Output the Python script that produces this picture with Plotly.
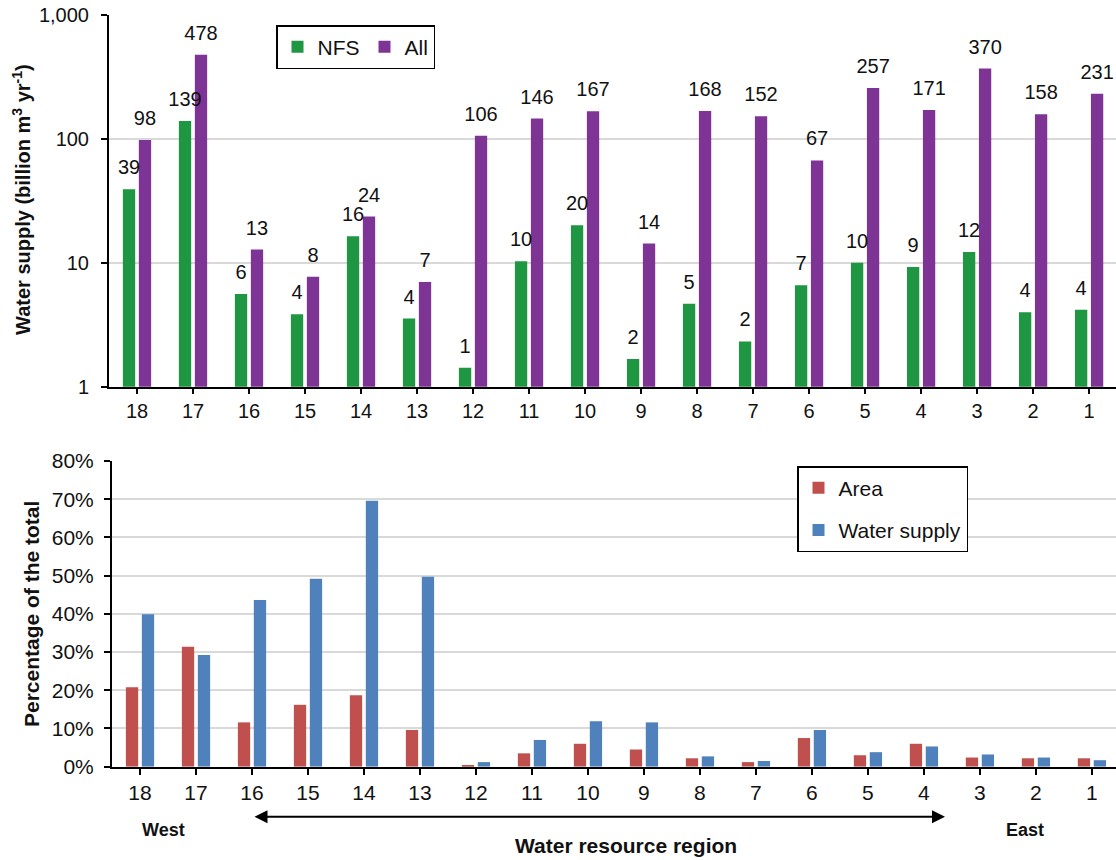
import plotly.graph_objects as go

# ---------------- data ----------------
regions = ["18", "17", "16", "15", "14", "13", "12", "11", "10",
           "9", "8", "7", "6", "5", "4", "3", "2", "1"]

# top panel: water supply (billion m3 / yr), log scale
nfs_supply = [39.2, 139.4, 5.6, 3.84, 16.4, 3.55, 1.42, 10.3, 20.1,
              1.67, 4.68, 2.32, 6.58, 10.0, 9.25, 12.2, 3.98, 4.18]
all_supply = [98, 478, 12.8, 7.7, 23.6, 7.0, 106, 146, 167,
              14.3, 168, 152, 67, 257, 171, 370, 158, 231]
top_ticks = [1, 10, 100, 1000]

# bottom panel: percentage of the total
area_pct = [20.8, 31.4, 11.6, 16.2, 18.7, 9.6, 0.4, 3.5, 6.0,
            4.5, 2.2, 1.2, 7.5, 3.0, 6.0, 2.4, 2.2, 2.2]
ws_pct = [39.9, 29.2, 43.6, 49.2, 69.6, 49.7, 1.2, 7.0, 11.9,
          11.6, 2.7, 1.5, 9.6, 3.8, 5.3, 3.2, 2.4, 1.7]

# ---------------- style ----------------
FONT = "Liberation Sans, Arial, sans-serif"
GREEN = "#1E9642"
PURPLE = "#7E3494"
RED = "#C0504D"
BLUE = "#4F81BD"
GRID = "#D9D9D9"
W, H = 1116, 860
LABEL_LIFT = 1.16   # extra gap between bar top and its value label (log axis)

fig = go.Figure()

# visible bars, top panel
for vals, name, color, grp in [(nfs_supply, "NFS", GREEN, "nfs"),
                               (all_supply, "All", PURPLE, "all")]:
    fig.add_trace(go.Bar(
        x=regions, y=vals, name=name, offsetgroup=grp,
        marker=dict(color=color, line=dict(width=0)),
        xaxis="x", yaxis="y", legend="legend", hoverinfo="x+y"))

# value labels, placed a little above each bar (transparent carrier bars)
for vals, grp in [(nfs_supply, "nfs"), (all_supply, "all")]:
    fig.add_trace(go.Bar(
        x=regions, y=[v * LABEL_LIFT for v in vals], customdata=vals,
        offsetgroup=grp, texttemplate="%{customdata:.0f}",
        textposition="outside", cliponaxis=False, constraintext="none",
        textfont=dict(size=20, color="#111"),
        marker=dict(color="rgba(0,0,0,0)", line=dict(width=0)),
        xaxis="x", yaxis="y", showlegend=False, hoverinfo="skip"))

fig.add_trace(go.Bar(
    x=regions, y=area_pct, name="Area", marker=dict(color=RED, line=dict(width=0)),
    xaxis="x2", yaxis="y2", legend="legend2", legendgroup="a"))
fig.add_trace(go.Bar(
    x=regions, y=ws_pct, name="Water supply", marker=dict(color=BLUE, line=dict(width=0)),
    xaxis="x2", yaxis="y2", legend="legend2", legendgroup="b"))

axis_common = dict(showline=True, linecolor="black", linewidth=2,
                   ticks="outside", tickcolor="black", tickwidth=2,
                   zeroline=False, automargin=False)

fig.update_layout(
    width=W, height=H,
    margin=dict(l=0, r=0, t=0, b=0, autoexpand=False),
    paper_bgcolor="white", plot_bgcolor="white",
    font=dict(family=FONT, size=20, color="#111"),
    barmode="group", bargap=0.43, bargroupgap=0.23,
    xaxis=dict(domain=[109 / W, 1], range=[-0.5, 17.48], type="category",
               anchor="y", showgrid=False, ticklen=5,
               tickfont=dict(size=20), **axis_common),
    yaxis=dict(domain=[1 - 386.7 / H, 1 - 15 / H], type="log", range=[0, 3],
               anchor="x", tickvals=top_ticks, tickformat=",",
               showgrid=True, gridcolor=GRID, gridwidth=1.5, ticklen=6,
               ticklabelstandoff=8, tickfont=dict(size=20), **axis_common),
    xaxis2=dict(domain=[112 / W, 1], range=[-0.5, 17.43], type="category",
                anchor="y2", showgrid=False, ticklen=6,
                tickfont=dict(size=21), **axis_common),
    yaxis2=dict(domain=[1 - 766.7 / H, 1 - 461 / H], range=[0, 80], dtick=10,
                ticksuffix="%", anchor="x2", showgrid=True, gridcolor=GRID,
                gridwidth=1.5, ticklen=6, ticklabelstandoff=6,
                tickfont=dict(size=21), **axis_common),
    legend=dict(orientation="h", x=276 / W, y=1 - 25 / H, xanchor="left",
                yanchor="top", bordercolor="black", borderwidth=1.5,
                bgcolor="white", font=dict(size=21)),
    legend2=dict(orientation="v", x=797 / W, y=1 - 466 / H, xanchor="left",
                 yanchor="top", bordercolor="black", borderwidth=1.5,
                 bgcolor="white", font=dict(size=21), tracegroupgap=12,
                 traceorder="grouped"),
    showlegend=True,
)

annotations = [
    dict(text="<b>Water supply (billion m<sup>3</sup> yr<sup>-1</sup>)</b>",
         x=22 / W, y=1 - 200 / H, textangle=-90, font=dict(size=20)),
    dict(text="<b>Percentage of the total</b>",
         x=31 / W, y=1 - 614 / H, textangle=-90, font=dict(size=21)),
    dict(text="<b>West</b>", x=163 / W, y=1 - 830 / H, font=dict(size=18)),
    dict(text="<b>East</b>", x=1025 / W, y=1 - 830 / H, font=dict(size=18)),
    dict(text="<b>Water resource region</b>", x=626 / W, y=1 - 845 / H,
         font=dict(size=21)),
]
for a in annotations:
    a.update(xref="paper", yref="paper", showarrow=False,
             xanchor="center", yanchor="middle")
fig.update_layout(annotations=annotations)

# double-headed arrow West <-> East
fig.add_annotation(text="", xref="paper", yref="paper",
                   x=945 / W, y=1 - 816.7 / H, ax=-(945 - 253), ay=0,
                   showarrow=True, arrowhead=2, arrowside="end+start",
                   arrowsize=1.3, arrowwidth=2, arrowcolor="black")

fig.write_html("out.html",
               config={"displayModeBar": False},
               post_script="document.body.style.margin='0px';"
                           "document.body.style.overflow='hidden';")
